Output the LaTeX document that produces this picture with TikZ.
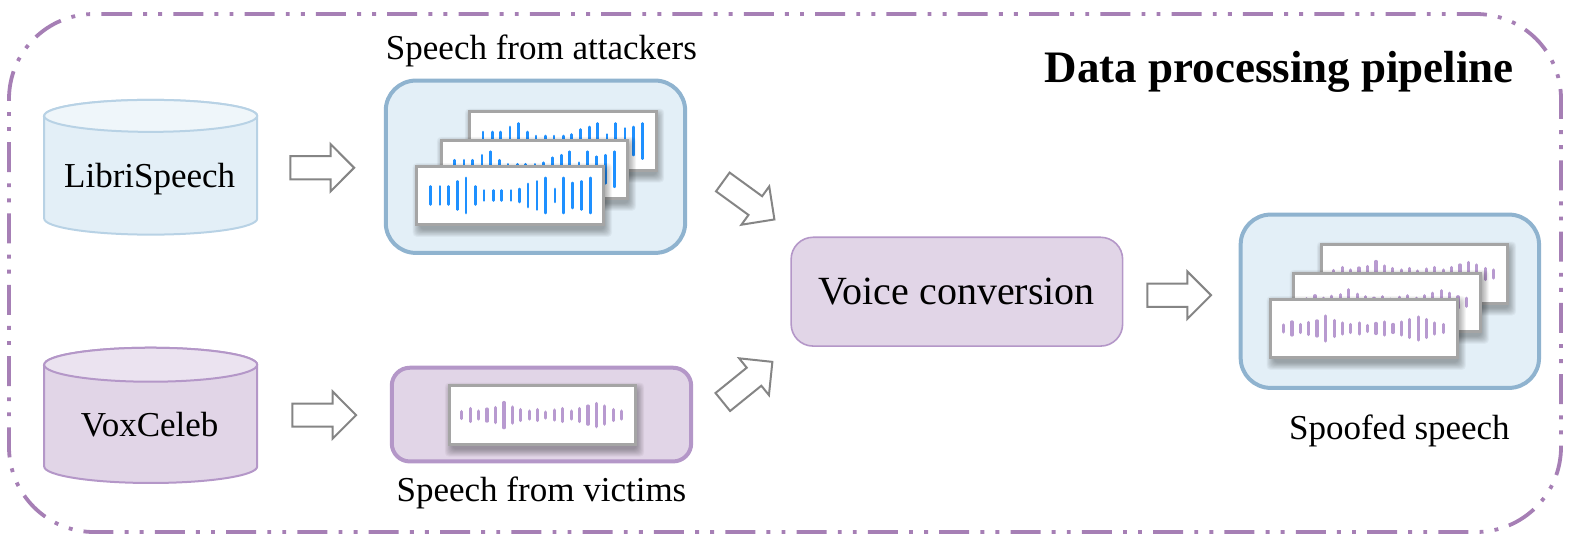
\documentclass[tikz,border=0pt]{standalone}
\usepackage{fontspec}
\setmainfont{Liberation Serif}
\definecolor{bluefill}{HTML}{E3EFF7}
\definecolor{bluetop}{HTML}{EFF6FA}
\definecolor{bluecyl}{HTML}{B8D2E5}
\definecolor{blueedge}{HTML}{8FB3CF}
\definecolor{purpfill}{HTML}{E1D5E7}
\definecolor{purptop}{HTML}{EBE3F0}
\definecolor{purpedge}{HTML}{B497C8}
\definecolor{outerline}{HTML}{A67FB5}
\definecolor{cardedge}{HTML}{A5A5A5}
\definecolor{arrowedge}{HTML}{858585}
\definecolor{barblue}{HTML}{1E90FF}
\definecolor{barpurp}{HTML}{B89AD0}
\tikzset{
  boxnode/.style={rounded corners=#1,inner sep=0pt,outer sep=0pt},
  bluebox/.style={boxnode=30pt,draw=blueedge,line width=4pt,fill=bluefill},
  label/.style={inner sep=0pt,outer sep=0pt,text=black,font=\fontsize{35}{38}\selectfont},
  cyllabel/.style={inner sep=0pt,outer sep=0pt,text=black,font=\fontsize{35}{38}\selectfont},
  blockarrow/.style={draw=arrowedge,line width=2pt,fill=white,line join=miter},
  cardface/.style={draw=cardedge,line width=3pt,fill=white},
  bluebar/.style={draw=barblue,line width=2.6pt,line cap=round},
  purplebar/.style={draw=barpurp,line width=3.2pt,line cap=round}
}
% #1 left, #2 top, #3 bar style, #4 bars
\newcommand{\wavecard}[4]{%
  \begin{scope}[shift={(#1,#2)}]
    \foreach \sp in {9,8,7,6,5,4,3,2,1,0}{
      \fill[black,opacity=0.035,rounded corners=4pt]
        (3-\sp*0.8,4-\sp*0.8) rectangle (186+1+\sp*0.8,58+5+\sp*0.8);
    }
    \path[cardface] (0,0) rectangle (186,58);
    \foreach \dx/\h in #4{
      \draw[#3] (\dx,29-\h/2) -- (\dx,29+\h/2);
    }
  \end{scope}}
\newcommand{\bluebars}{13.7/18,23/18,31.3/18,40.7/28,49/35,58.3/18,66.7/10,76/10,84.3/10,93.7/10,102/13,110.7/23,119.7/28,128/35,137.3/13,145.7/35,155/25,163.7/28,172.7/35}
\newcommand{\purplebars}{12.7/7,21/13,29.3/8,37.7/12,46/15,54.7/25,63/16,71.3/11,79.7/8,88/11,96.3/6,104.7/10,113/13,121.7/8,130/13,138.3/18,146.7/23,155/18,163.3/11,171.7/8}
% #1 tail centre x, #2 y, #3 angle
\newcommand{\blockarr}[3]{%
  \draw[blockarrow,shift={(#1,#2)},rotate=#3]
    (0,-11.5) -- (40,-11.5) -- (40,-23.5) -- (63.5,0) -- (40,23.5) -- (40,11.5) -- (0,11.5) -- cycle;}
\begin{document}
\begin{tikzpicture}[x=1.0046pt,y=-1.0075pt]
% outer frame
\draw[outerline,line width=3.8pt,dash pattern=on 30pt off 11.17pt on 3.9pt off 11.17pt on 3.9pt off 11.17pt]
  (102pt,-14pt) -- (1476pt,-14pt) arc[start angle=90,end angle=0,radius=85pt]
  -- (1561pt,-447pt) arc[start angle=0,end angle=-90,radius=85pt]
  -- (94pt,-532pt) arc[start angle=270,end angle=180,radius=85pt]
  -- (9pt,-99pt) arc[start angle=180,end angle=90,radius=85pt] -- cycle;
% title
\node[inner sep=0pt,outer sep=0pt,anchor=base east,font=\fontsize{45}{48}\selectfont\bfseries] (title) at (1507,81.5) {Data processing pipeline};
% cylinders
\draw[bluecyl,line width=2pt,fill=bluefill] (44,115) -- (44,217) arc[start angle=180,end angle=360,x radius=106.5pt,y radius=16pt] -- (256,115) arc[start angle=0,end angle=180,x radius=106.5pt,y radius=16pt] -- cycle;
\draw[bluecyl,line width=2pt,fill=bluetop] (150,115) ellipse [x radius=106.5pt,y radius=16pt];
\node[cyllabel] (libri) at (149,177.5) {LibriSpeech};
\draw[purpedge,line width=2pt,fill=purpfill] (44,362) -- (44,463) arc[start angle=180,end angle=360,x radius=106.5pt,y radius=16.5pt] -- (256,362) arc[start angle=0,end angle=180,x radius=106.5pt,y radius=17pt] -- cycle;
\draw[purpedge,line width=2pt,fill=purptop] (150,362) ellipse [x radius=106.5pt,y radius=17pt];
\node[cyllabel] (vox) at (149,421.5) {VoxCeleb};
% boxes
\node[bluebox,minimum width=299.4pt,minimum height=172.3pt] (attackers) at (533,165.5) {};
\node[boxnode=18pt,draw=purpedge,line width=4pt,fill=purpfill,minimum width=299.4pt,minimum height=93.7pt] (victims) at (539,411.5) {};
\node[boxnode=22pt,draw=purpedge,line width=1.6pt,fill=purpfill,minimum width=331.5pt,minimum height=108.8pt,font=\fontsize{40}{44}\selectfont] (vc) at (952.5,289.5) {Voice conversion};
\node[bluebox,minimum width=298.4pt,minimum height=173.3pt] (spoofed) at (1383.5,299) {};
% wave cards
\wavecard{467}{111}{bluebar}{\bluebars}
\wavecard{439}{139}{bluebar}{\bluebars}
\wavecard{415}{165}{bluebar}{\bluebars}
\wavecard{447}{383}{purplebar}{\purplebars}
\wavecard{1315}{243}{purplebar}{\purplebars}
\wavecard{1288}{271}{purplebar}{\purplebars}
\wavecard{1265}{297}{purplebar}{\purplebars}
% arrows
\blockarr{289}{166.5}{0}
\blockarr{291}{412}{0}
\blockarr{719.5}{180.6}{-36}
\blockarr{719.5}{399}{39}
\blockarr{1142}{293}{0}
% labels
\node[label] (lattackers) at (539,50.5) {Speech from attackers};
\node[label] (lvictims) at (539,489) {Speech from victims};
\node[label] (lspoofed) at (1393,428) {Spoofed speech};
\pgfresetboundingbox
\useasboundingbox (0pt,0pt) rectangle (1576pt,-544pt);
\end{tikzpicture}
\end{document}
